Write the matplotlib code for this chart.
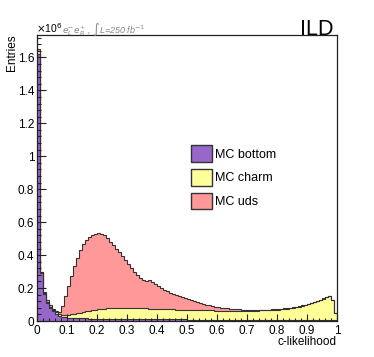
import numpy as np
import matplotlib.pyplot as plt
from matplotlib.patches import Patch
from matplotlib.ticker import MultipleLocator, FormatStrFormatter

plt.rcParams['font.family'] = ['Liberation Sans', 'DejaVu Sans']

# c-likelihood, 100 bins from 0 to 1, entries in units of 1e6
bin_edges = np.linspace(0, 1, 101)

mc_bottom = [
    1.620, 0.290, 0.162, 0.110, 0.080, 0.058, 0.042, 0.032, 0.026, 0.022,
    0.020, 0.019, 0.018, 0.017, 0.017, 0.016, 0.016, 0.015, 0.015, 0.015,
    0.014, 0.014, 0.014, 0.013, 0.013, 0.013, 0.013, 0.012, 0.012, 0.012,
    0.012, 0.012, 0.011, 0.011, 0.011, 0.011, 0.011, 0.011, 0.010, 0.010,
    0.010, 0.010, 0.010, 0.010, 0.010, 0.010, 0.010, 0.010, 0.010, 0.010,
    0.009, 0.009, 0.009, 0.009, 0.009, 0.009, 0.009, 0.009, 0.009, 0.009,
    0.009, 0.009, 0.008, 0.008, 0.008, 0.008, 0.008, 0.008, 0.008, 0.008,
    0.008, 0.008, 0.008, 0.007, 0.007, 0.007, 0.007, 0.007, 0.007, 0.007,
    0.007, 0.007, 0.007, 0.007, 0.007, 0.007, 0.007, 0.007, 0.007, 0.007,
    0.007, 0.007, 0.007, 0.007, 0.007, 0.007, 0.007, 0.007, 0.007, 0.005,
]
mc_charm = [
    0.018, 0.005, 0.006, 0.007, 0.008, 0.009, 0.010, 0.011, 0.012, 0.015,
    0.018, 0.021, 0.025, 0.029, 0.033, 0.038, 0.042, 0.047, 0.051, 0.054,
    0.058, 0.060, 0.061, 0.063, 0.064, 0.064, 0.064, 0.065, 0.065, 0.065,
    0.065, 0.065, 0.066, 0.066, 0.066, 0.065, 0.065, 0.064, 0.065, 0.064,
    0.063, 0.062, 0.062, 0.061, 0.060, 0.060, 0.059, 0.059, 0.058, 0.058,
    0.058, 0.058, 0.057, 0.057, 0.056, 0.056, 0.055, 0.055, 0.055, 0.054,
    0.054, 0.054, 0.055, 0.054, 0.054, 0.054, 0.054, 0.054, 0.054, 0.054,
    0.055, 0.055, 0.055, 0.056, 0.057, 0.058, 0.058, 0.059, 0.060, 0.061,
    0.062, 0.064, 0.066, 0.068, 0.071, 0.074, 0.077, 0.081, 0.085, 0.090,
    0.095, 0.100, 0.106, 0.112, 0.119, 0.127, 0.136, 0.142, 0.120, 0.041,
]
mc_uds = [
    0.016, 0.005, 0.007, 0.008, 0.007, 0.008, 0.008, 0.009, 0.052, 0.113,
    0.172, 0.235, 0.292, 0.339, 0.380, 0.411, 0.432, 0.448, 0.456, 0.461,
    0.463, 0.456, 0.445, 0.426, 0.405, 0.385, 0.363, 0.341, 0.318, 0.293,
    0.268, 0.243, 0.221, 0.201, 0.185, 0.174, 0.166, 0.171, 0.161, 0.148,
    0.137, 0.128, 0.118, 0.110, 0.102, 0.094, 0.088, 0.081, 0.075, 0.069,
    0.064, 0.058, 0.053, 0.048, 0.044, 0.039, 0.035, 0.031, 0.027, 0.024,
    0.021, 0.018, 0.015, 0.014, 0.012, 0.010, 0.009, 0.008, 0.007, 0.006,
    0.004, 0.004, 0.004, 0.004, 0.003, 0.003, 0.003, 0.003, 0.003, 0.003,
    0.003, 0.003, 0.003, 0.003, 0.003, 0.003, 0.003, 0.003, 0.003, 0.003,
    0.003, 0.003, 0.003, 0.003, 0.003, 0.003, 0.003, 0.003, 0.003, 0.002,
]

labels = ['MC bottom', 'MC charm', 'MC uds']
colors = ['#9966cc', '#ffff99', '#ff9999']
edge = '#333333'

fig = plt.figure(figsize=(3.74, 3.57), dpi=100)
ax = fig.add_axes([37 / 374, 36 / 357, 300 / 374, 286 / 357])

# gestapelde histogrammen
lower = np.zeros(100)
for vals, col in zip([mc_bottom, mc_charm, mc_uds], colors):
    upper = lower + np.array(vals)
    ax.stairs(upper, bin_edges, baseline=lower, fill=True, color=col, lw=0)
    lower = upper
lower = np.zeros(100)
for vals in [mc_bottom, mc_charm, mc_uds]:
    lower = lower + np.array(vals)
    ax.stairs(lower, bin_edges, baseline=None, color=edge, lw=0.8)

ax.set_xlim(0, 1)
ax.set_ylim(0, 1.736)

ax.xaxis.set_major_locator(MultipleLocator(0.1))
ax.xaxis.set_minor_locator(MultipleLocator(0.02))
ax.yaxis.set_major_locator(MultipleLocator(0.2))
ax.yaxis.set_minor_locator(MultipleLocator(0.04))
ax.xaxis.set_major_formatter(FormatStrFormatter('%g'))
ax.yaxis.set_major_formatter(FormatStrFormatter('%g'))
ax.tick_params(axis='both', which='both', direction='in', top=False, right=False,
               labelsize=8.5, width=0.8, color='#222222')
ax.tick_params(axis='y', which='major', length=6.5, pad=2)
ax.tick_params(axis='y', which='minor', length=3.2)
ax.tick_params(axis='x', which='major', length=5, pad=3)
ax.tick_params(axis='x', which='minor', length=2.5)
for s in ax.spines.values():
    s.set_linewidth(0.9)
    s.set_color('#222222')

# assen teksten
fig.text(12 / 374, 1 - 34 / 357, 'Entries', rotation=90, ha='center', va='top', fontsize=8.5)
fig.text(337 / 374, 1 - 342 / 357, 'c-likelihood', ha='right', va='center', fontsize=8.5)
fig.text(36 / 374, 1 - 33 / 357, r'$\times$10$^{6}$', ha='left', va='baseline', fontsize=7.5)
fig.text(62 / 374, 1 - 33 / 357,
         r'$e^{-}_{L}e^{+}_{R}$ , $\int$L=250 fb$^{-1}$',
         ha='left', va='baseline', fontsize=6.5, color='#888888', style='italic')
fig.text(333 / 374, 1 - 35 / 357, 'ILD', ha='right', va='baseline', fontsize=15.5)

# legenda
handles = [Patch(facecolor=c, edgecolor=edge, lw=1) for c in colors]
ax.legend(handles, labels, loc='upper left', bbox_to_anchor=(191 / 374, 1 - 145 / 357),
          bbox_transform=fig.transFigure, frameon=False, fontsize=9,
          handlelength=1.65, handleheight=1.7, labelspacing=0.55, handletextpad=0.3,
          borderpad=0, borderaxespad=0)

fig.savefig('out.png', dpi=100)
